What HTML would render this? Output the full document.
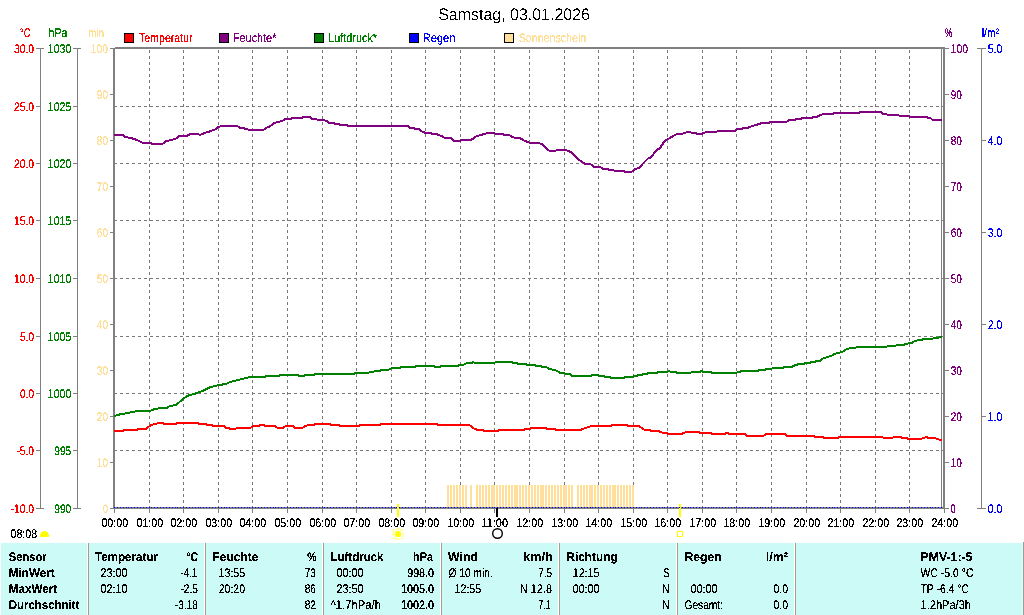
<!DOCTYPE html><html><head><meta charset="utf-8"><title>Wetter</title>
<style>html,body{margin:0;padding:0;background:#fff;overflow:hidden}svg{display:block;will-change:transform}text{font-family:'Liberation Sans', sans-serif;white-space:pre;text-rendering:geometricPrecision}</style></head><body>
<svg width="1024" height="615" viewBox="0 0 1024 615">
<rect x="0" y="0" width="1024" height="615" fill="#fff"/>
<g shape-rendering="crispEdges">
<line x1="149.5" y1="509" x2="149.5" y2="49" stroke="#787878" stroke-width="1" stroke-dasharray="3 3"/>
<line x1="183.5" y1="509" x2="183.5" y2="49" stroke="#787878" stroke-width="1" stroke-dasharray="3 3"/>
<line x1="218.5" y1="509" x2="218.5" y2="49" stroke="#787878" stroke-width="1" stroke-dasharray="3 3"/>
<line x1="252.5" y1="509" x2="252.5" y2="49" stroke="#787878" stroke-width="1" stroke-dasharray="3 3"/>
<line x1="287.5" y1="509" x2="287.5" y2="49" stroke="#787878" stroke-width="1" stroke-dasharray="3 3"/>
<line x1="322.5" y1="509" x2="322.5" y2="49" stroke="#787878" stroke-width="1" stroke-dasharray="3 3"/>
<line x1="356.5" y1="509" x2="356.5" y2="49" stroke="#787878" stroke-width="1" stroke-dasharray="3 3"/>
<line x1="391.5" y1="509" x2="391.5" y2="49" stroke="#787878" stroke-width="1" stroke-dasharray="3 3"/>
<line x1="425.5" y1="509" x2="425.5" y2="49" stroke="#787878" stroke-width="1" stroke-dasharray="3 3"/>
<line x1="460.5" y1="509" x2="460.5" y2="49" stroke="#787878" stroke-width="1" stroke-dasharray="3 3"/>
<line x1="494.5" y1="509" x2="494.5" y2="49" stroke="#787878" stroke-width="1" stroke-dasharray="3 3"/>
<line x1="529.5" y1="509" x2="529.5" y2="49" stroke="#787878" stroke-width="1" stroke-dasharray="3 3"/>
<line x1="564.5" y1="509" x2="564.5" y2="49" stroke="#787878" stroke-width="1" stroke-dasharray="3 3"/>
<line x1="598.5" y1="509" x2="598.5" y2="49" stroke="#787878" stroke-width="1" stroke-dasharray="3 3"/>
<line x1="633.5" y1="509" x2="633.5" y2="49" stroke="#787878" stroke-width="1" stroke-dasharray="3 3"/>
<line x1="667.5" y1="509" x2="667.5" y2="49" stroke="#787878" stroke-width="1" stroke-dasharray="3 3"/>
<line x1="702.5" y1="509" x2="702.5" y2="49" stroke="#787878" stroke-width="1" stroke-dasharray="3 3"/>
<line x1="736.5" y1="509" x2="736.5" y2="49" stroke="#787878" stroke-width="1" stroke-dasharray="3 3"/>
<line x1="771.5" y1="509" x2="771.5" y2="49" stroke="#787878" stroke-width="1" stroke-dasharray="3 3"/>
<line x1="806.5" y1="509" x2="806.5" y2="49" stroke="#787878" stroke-width="1" stroke-dasharray="3 3"/>
<line x1="840.5" y1="509" x2="840.5" y2="49" stroke="#787878" stroke-width="1" stroke-dasharray="3 3"/>
<line x1="875.5" y1="509" x2="875.5" y2="49" stroke="#787878" stroke-width="1" stroke-dasharray="3 3"/>
<line x1="909.5" y1="509" x2="909.5" y2="49" stroke="#787878" stroke-width="1" stroke-dasharray="3 3"/>
<line x1="114" y1="106.5" x2="943" y2="106.5" stroke="#787878" stroke-width="1" stroke-dasharray="3 3"/>
<line x1="114" y1="163.5" x2="943" y2="163.5" stroke="#787878" stroke-width="1" stroke-dasharray="3 3"/>
<line x1="114" y1="220.5" x2="943" y2="220.5" stroke="#787878" stroke-width="1" stroke-dasharray="3 3"/>
<line x1="114" y1="278.5" x2="943" y2="278.5" stroke="#787878" stroke-width="1" stroke-dasharray="3 3"/>
<line x1="114" y1="336.5" x2="943" y2="336.5" stroke="#787878" stroke-width="1" stroke-dasharray="3 3"/>
<line x1="114" y1="393.5" x2="943" y2="393.5" stroke="#787878" stroke-width="1" stroke-dasharray="3 3"/>
<line x1="114" y1="450.5" x2="943" y2="450.5" stroke="#787878" stroke-width="1" stroke-dasharray="3 3"/>
<rect x="447" y="485" width="2" height="22" fill="#FFDF99"/>
<rect x="450" y="485" width="2" height="22" fill="#FFDF99"/>
<rect x="453" y="485" width="2" height="22" fill="#FFDF99"/>
<rect x="456" y="485" width="2" height="22" fill="#FFDF99"/>
<rect x="459" y="485" width="2" height="22" fill="#FFDF99"/>
<rect x="462" y="485" width="2" height="22" fill="#FFDF99"/>
<rect x="465" y="485" width="2" height="22" fill="#FFDF99"/>
<rect x="470" y="485" width="2" height="22" fill="#FFDF99"/>
<rect x="476" y="485" width="2" height="22" fill="#FFDF99"/>
<rect x="479" y="485" width="2" height="22" fill="#FFDF99"/>
<rect x="482" y="485" width="2" height="22" fill="#FFDF99"/>
<rect x="485" y="485" width="2" height="22" fill="#FFDF99"/>
<rect x="488" y="485" width="2" height="22" fill="#FFDF99"/>
<rect x="491" y="485" width="2" height="22" fill="#FFDF99"/>
<rect x="493" y="485" width="2" height="22" fill="#FFDF99"/>
<rect x="496" y="485" width="2" height="22" fill="#FFDF99"/>
<rect x="499" y="485" width="2" height="22" fill="#FFDF99"/>
<rect x="502" y="485" width="2" height="22" fill="#FFDF99"/>
<rect x="505" y="485" width="2" height="22" fill="#FFDF99"/>
<rect x="508" y="485" width="2" height="22" fill="#FFDF99"/>
<rect x="511" y="485" width="2" height="22" fill="#FFDF99"/>
<rect x="514" y="485" width="2" height="22" fill="#FFDF99"/>
<rect x="516" y="485" width="2" height="22" fill="#FFDF99"/>
<rect x="519" y="485" width="2" height="22" fill="#FFDF99"/>
<rect x="522" y="485" width="2" height="22" fill="#FFDF99"/>
<rect x="525" y="485" width="2" height="22" fill="#FFDF99"/>
<rect x="528" y="485" width="2" height="22" fill="#FFDF99"/>
<rect x="531" y="485" width="2" height="22" fill="#FFDF99"/>
<rect x="534" y="485" width="2" height="22" fill="#FFDF99"/>
<rect x="537" y="485" width="2" height="22" fill="#FFDF99"/>
<rect x="540" y="485" width="2" height="22" fill="#FFDF99"/>
<rect x="542" y="485" width="2" height="22" fill="#FFDF99"/>
<rect x="545" y="485" width="2" height="22" fill="#FFDF99"/>
<rect x="548" y="485" width="2" height="22" fill="#FFDF99"/>
<rect x="551" y="485" width="2" height="22" fill="#FFDF99"/>
<rect x="554" y="485" width="2" height="22" fill="#FFDF99"/>
<rect x="557" y="485" width="2" height="22" fill="#FFDF99"/>
<rect x="560" y="485" width="2" height="22" fill="#FFDF99"/>
<rect x="563" y="485" width="2" height="22" fill="#FFDF99"/>
<rect x="565" y="485" width="2" height="22" fill="#FFDF99"/>
<rect x="568" y="485" width="2" height="22" fill="#FFDF99"/>
<rect x="571" y="485" width="2" height="22" fill="#FFDF99"/>
<rect x="577" y="485" width="2" height="22" fill="#FFDF99"/>
<rect x="580" y="485" width="2" height="22" fill="#FFDF99"/>
<rect x="583" y="485" width="2" height="22" fill="#FFDF99"/>
<rect x="586" y="485" width="2" height="22" fill="#FFDF99"/>
<rect x="589" y="485" width="2" height="22" fill="#FFDF99"/>
<rect x="591" y="485" width="2" height="22" fill="#FFDF99"/>
<rect x="594" y="485" width="2" height="22" fill="#FFDF99"/>
<rect x="597" y="485" width="2" height="22" fill="#FFDF99"/>
<rect x="600" y="485" width="2" height="22" fill="#FFDF99"/>
<rect x="603" y="485" width="2" height="22" fill="#FFDF99"/>
<rect x="606" y="485" width="2" height="22" fill="#FFDF99"/>
<rect x="609" y="485" width="2" height="22" fill="#FFDF99"/>
<rect x="612" y="485" width="2" height="22" fill="#FFDF99"/>
<rect x="614" y="485" width="2" height="22" fill="#FFDF99"/>
<rect x="617" y="485" width="2" height="22" fill="#FFDF99"/>
<rect x="620" y="485" width="2" height="22" fill="#FFDF99"/>
<rect x="623" y="485" width="2" height="22" fill="#FFDF99"/>
<rect x="626" y="485" width="2" height="22" fill="#FFDF99"/>
<rect x="629" y="485" width="2" height="22" fill="#FFDF99"/>
<rect x="632" y="485" width="2" height="22" fill="#FFDF99"/>
<rect x="115" y="47" width="830" height="2" fill="#808080"/>
<rect x="113" y="48" width="2" height="461" fill="#808080"/>
<rect x="943" y="47" width="2" height="462" fill="#808080"/>
<rect x="941" y="49" width="1" height="459" fill="#808080"/>
<rect x="113" y="507" width="832" height="2" fill="#808080"/>
<rect x="114" y="509" width="1" height="4" fill="#808080"/>
<rect x="149" y="509" width="1" height="4" fill="#808080"/>
<rect x="183" y="509" width="1" height="4" fill="#808080"/>
<rect x="218" y="509" width="1" height="4" fill="#808080"/>
<rect x="252" y="509" width="1" height="4" fill="#808080"/>
<rect x="287" y="509" width="1" height="4" fill="#808080"/>
<rect x="322" y="509" width="1" height="4" fill="#808080"/>
<rect x="356" y="509" width="1" height="4" fill="#808080"/>
<rect x="391" y="509" width="1" height="4" fill="#808080"/>
<rect x="425" y="509" width="1" height="4" fill="#808080"/>
<rect x="460" y="509" width="1" height="4" fill="#808080"/>
<rect x="494" y="509" width="1" height="4" fill="#808080"/>
<rect x="529" y="509" width="1" height="4" fill="#808080"/>
<rect x="564" y="509" width="1" height="4" fill="#808080"/>
<rect x="598" y="509" width="1" height="4" fill="#808080"/>
<rect x="633" y="509" width="1" height="4" fill="#808080"/>
<rect x="667" y="509" width="1" height="4" fill="#808080"/>
<rect x="702" y="509" width="1" height="4" fill="#808080"/>
<rect x="736" y="509" width="1" height="4" fill="#808080"/>
<rect x="771" y="509" width="1" height="4" fill="#808080"/>
<rect x="806" y="509" width="1" height="4" fill="#808080"/>
<rect x="840" y="509" width="1" height="4" fill="#808080"/>
<rect x="875" y="509" width="1" height="4" fill="#808080"/>
<rect x="909" y="509" width="1" height="4" fill="#808080"/>
<rect x="944" y="509" width="1" height="4" fill="#808080"/>
<rect x="40" y="48" width="1" height="461" fill="#808080"/>
<rect x="77" y="48" width="1" height="461" fill="#808080"/>
<rect x="36" y="48" width="8" height="1" fill="#808080"/>
<rect x="73" y="48" width="8" height="1" fill="#808080"/>
<rect x="36" y="106" width="4" height="1" fill="#808080"/>
<rect x="73" y="106" width="4" height="1" fill="#808080"/>
<rect x="36" y="163" width="4" height="1" fill="#808080"/>
<rect x="73" y="163" width="4" height="1" fill="#808080"/>
<rect x="36" y="220" width="4" height="1" fill="#808080"/>
<rect x="73" y="220" width="4" height="1" fill="#808080"/>
<rect x="36" y="278" width="4" height="1" fill="#808080"/>
<rect x="73" y="278" width="4" height="1" fill="#808080"/>
<rect x="36" y="336" width="4" height="1" fill="#808080"/>
<rect x="73" y="336" width="4" height="1" fill="#808080"/>
<rect x="36" y="393" width="4" height="1" fill="#808080"/>
<rect x="73" y="393" width="4" height="1" fill="#808080"/>
<rect x="36" y="450" width="4" height="1" fill="#808080"/>
<rect x="73" y="450" width="4" height="1" fill="#808080"/>
<rect x="36" y="508" width="8" height="1" fill="#808080"/>
<rect x="73" y="508" width="8" height="1" fill="#808080"/>
<rect x="110" y="48" width="3" height="1" fill="#808080"/>
<rect x="110" y="94" width="3" height="1" fill="#808080"/>
<rect x="110" y="140" width="3" height="1" fill="#808080"/>
<rect x="110" y="186" width="3" height="1" fill="#808080"/>
<rect x="110" y="232" width="3" height="1" fill="#808080"/>
<rect x="110" y="278" width="3" height="1" fill="#808080"/>
<rect x="110" y="324" width="3" height="1" fill="#808080"/>
<rect x="110" y="370" width="3" height="1" fill="#808080"/>
<rect x="110" y="416" width="3" height="1" fill="#808080"/>
<rect x="110" y="462" width="3" height="1" fill="#808080"/>
<rect x="110" y="508" width="3" height="1" fill="#808080"/>
<rect x="945" y="48" width="4" height="1" fill="#808080"/>
<rect x="945" y="94" width="4" height="1" fill="#808080"/>
<rect x="945" y="140" width="4" height="1" fill="#808080"/>
<rect x="945" y="186" width="4" height="1" fill="#808080"/>
<rect x="945" y="232" width="4" height="1" fill="#808080"/>
<rect x="945" y="278" width="4" height="1" fill="#808080"/>
<rect x="945" y="324" width="4" height="1" fill="#808080"/>
<rect x="945" y="370" width="4" height="1" fill="#808080"/>
<rect x="945" y="416" width="4" height="1" fill="#808080"/>
<rect x="945" y="462" width="4" height="1" fill="#808080"/>
<rect x="945" y="508" width="4" height="1" fill="#808080"/>
<rect x="981" y="48" width="1" height="461" fill="#808080"/>
<rect x="977" y="48" width="9" height="1" fill="#808080"/>
<rect x="982" y="140" width="4" height="1" fill="#808080"/>
<rect x="982" y="232" width="4" height="1" fill="#808080"/>
<rect x="982" y="324" width="4" height="1" fill="#808080"/>
<rect x="982" y="416" width="4" height="1" fill="#808080"/>
<rect x="977" y="508" width="9" height="1" fill="#808080"/>
<polyline points="114,416 117.5,415 121.5,414 128,413 132.5,412 138,411 149.5,411 155,409 161,408 166.5,408 170,406 176,405 179.5,402 184,398 189.5,395 194,394 199.5,392 205,390 208,388 211,387 215,386 219,385 226,384 230,382 234.5,381 238,380 242,379 245.5,378 250.5,377 265,377 266,376 278.5,376 280,375 298,375 299,376 304,376 305.5,375 313.5,375 315,374 353.5,374 355.5,373 368.5,373 369.5,372 373.5,372 374.5,371 379.5,371 381,370 388.5,370 389.5,369 392,368 399.5,368 401,367 414.5,367 416,366 434,366 435,367 440,367 441.5,366 458,366 459,365 463.5,365 464.5,364 467,363 471.5,363 473.5,362 474.5,363 494.5,363 495.5,362 512,362 513,363 517,363 518,364 526,364 527.5,365 535,365 536,366 541,366 542.5,367 546,367 549.5,369 554,370 557.5,371 560,373 564.5,373 565.5,374 569.5,374 572.5,376 590.5,376 592,375 598,375 599.5,376 604,376 605,377 610,377 611,378 624,378 625.5,377 633,377 634,376 636.5,376 638,375 641.5,375 643,374 647,374 648.5,373 656.5,373 658,372 667,372 669,371 671,372 676,372 677,373 690.5,373 691.5,372 700,372 701.5,371 703,372 711,372 712,373 736,373 738,372 740,372 741,371 757.5,371 759,370 765,370 766.5,369 771.5,369 772.5,368 783,368 784.5,367 791.5,367 793,366 796,365 799,364 804,364 805,363 809.5,363 811,362 814.5,362 816,361 820,361 822,359 824.5,358 827.5,357 831,356 834.5,354 838,353 842.5,352 845,350 847.5,349 851,348 855.5,348 856.5,347 886.5,347 887.5,346 895.5,346 896.5,345 904,345 905,344 907.5,344 908.5,343 912,343 913,342 915.5,341 918.5,340 922,340 923,339 932.5,339 933.5,338 938.5,338 939.5,337 942,337" fill="none" stroke="#008000" stroke-width="2" stroke-linejoin="round"/>
<polyline points="114,431 123,431 124.5,430 137,430 138,429 146,429 148,427 151.5,425 155,424 159,423 162.5,423 164,424 176,424 177,423 197.5,423 199,424 206,424 207,425 212,425 213,426 224,426 226,428 229,428 230,429 235,429 237,428 240,428 250.5,428 253,426 258.5,426 260,425 264,425 265.5,426 275,426 277.5,428 282.5,428 284,427 286,426 293,426 295,428 302.5,428 305,426 308.5,425 313.5,425 315,424 330,424 331,425 338.5,425 340,426 359,426 360.5,425 379.5,425 381,424 437,424 438.5,425 468.5,425 471,426 473,428 475,429 478,430 483,430 484,431 497.5,431 499,430 524,430 525,429 530,429 531,428 545.5,428 547,429 555,429 556,430 581,430 582.5,429 585.5,428 589,427 591,426 610.5,426 612,425 626.5,425 628,426 639,426 641.5,428 645,430 650,430 651,431 659,431 660.5,432 663,433 667,433 668.5,434 682,434 683.5,433 686,432 687,432 699,432 700.5,433 711,433 712,434 725.5,434 726,433 728,433 728.5,434 745,434 747,436 763,436 766.5,434 785,434 787,436 814,436 815,437 823,437 824.5,438 837.5,438 839,437 882.5,437 883.5,438 892.5,438 893.5,437 901.5,437 902,438 907,438 908,439 921.5,439 922.5,438 924.5,438 925.5,437 927,437 928,438 935.5,438 936.5,439 938.5,439 939.5,440 942,440" fill="none" stroke="#FF0000" stroke-width="2" stroke-linejoin="round"/>
<polyline points="114,135 123.5,135 124.5,137 131,138 137,140 143,143 151,143 152,144 162.5,144 166,141 172,140 177,138 179,136 187,136 190,134 198,134 200,135 204.5,133 211,131 216,129 218,127 222,126 237.5,126 240,128 244,128 245.5,129 250,130 263.5,130 266,128 270.5,126 274,123 278,122 282,121 285.5,119 290.5,119 292.5,118 302,118 303,117 310,117 312,119 316,119 318,120 323,120 327,121 329,123 333.5,123 335,124 339,124 340.5,125 347,125 348.5,126 408,126 409.5,128 414,128 415,129 419,129 421,131 423,132 426,133 431,133 432,134 437,134 438.5,135 441.5,136 445,138 451,138 454,141 460,141 461.5,140 471,140 474,138 476.5,136 481,135 484,134 488,133 494.5,133 495.5,134 502.5,134 504.5,135 509,135 512.5,137 516,138 520,138 523,140 527.5,142 530,143 538,143 542,144 545,147 549.5,151 555,151 557,150 565.5,150 569,151 572,153 576,157 580.5,161 585.5,164 590.5,164 594,167 600.5,167 603,169 607.5,169 609.5,170 613,170 615,171 624,171 625.5,172 631.5,172 635,169 639,168 643.5,163 648.5,158 650.5,158 653.5,154 657,150 660,148 664,142 666,140 670,138 673,136 677,134 682,134 687,132 690.5,132 691.5,133 696,133 697,134 702,134 703.5,133 706,132 708,132 716,132 718,131 735,131 736.5,129 742,129 743,128 747.5,128 749.5,127 752.5,126 756,125 759,124 762,123 769,123 770,122 786,122 789.5,120 794.5,120 796,119 801,119 802,118 811.5,118 813,117 817,117 820,115 824.5,114 832.5,114 834.5,113 859,113 860,112 881,112 883,114 886.5,114 887.5,115 898.5,115 899.5,116 909,116 910,117 927,117 928.5,118 930.5,118 932.5,120 942,120" fill="none" stroke="#800080" stroke-width="2" stroke-linejoin="round"/>
<rect x="397" y="504" width="2" height="13" fill="#FFFF00"/>
<rect x="679" y="504" width="2" height="13" fill="#FFFF00"/>
<rect x="496" y="508" width="2" height="9" fill="#000"/>
<rect x="114" y="507" width="1" height="1" fill="#0000FF"/>
<rect x="117" y="507" width="1" height="1" fill="#0000FF"/>
<rect x="120" y="507" width="1" height="1" fill="#0000FF"/>
<rect x="123" y="507" width="1" height="1" fill="#0000FF"/>
<rect x="126" y="507" width="1" height="1" fill="#0000FF"/>
<rect x="128" y="507" width="1" height="1" fill="#0000FF"/>
<rect x="131" y="507" width="1" height="1" fill="#0000FF"/>
<rect x="134" y="507" width="1" height="1" fill="#0000FF"/>
<rect x="137" y="507" width="1" height="1" fill="#0000FF"/>
<rect x="140" y="507" width="1" height="1" fill="#0000FF"/>
<rect x="143" y="507" width="1" height="1" fill="#0000FF"/>
<rect x="146" y="507" width="1" height="1" fill="#0000FF"/>
<rect x="149" y="507" width="1" height="1" fill="#0000FF"/>
<rect x="151" y="507" width="1" height="1" fill="#0000FF"/>
<rect x="154" y="507" width="1" height="1" fill="#0000FF"/>
<rect x="157" y="507" width="1" height="1" fill="#0000FF"/>
<rect x="160" y="507" width="1" height="1" fill="#0000FF"/>
<rect x="163" y="507" width="1" height="1" fill="#0000FF"/>
<rect x="166" y="507" width="1" height="1" fill="#0000FF"/>
<rect x="169" y="507" width="1" height="1" fill="#0000FF"/>
<rect x="172" y="507" width="1" height="1" fill="#0000FF"/>
<rect x="175" y="507" width="1" height="1" fill="#0000FF"/>
<rect x="177" y="507" width="1" height="1" fill="#0000FF"/>
<rect x="180" y="507" width="1" height="1" fill="#0000FF"/>
<rect x="183" y="507" width="1" height="1" fill="#0000FF"/>
<rect x="186" y="507" width="1" height="1" fill="#0000FF"/>
<rect x="189" y="507" width="1" height="1" fill="#0000FF"/>
<rect x="192" y="507" width="1" height="1" fill="#0000FF"/>
<rect x="195" y="507" width="1" height="1" fill="#0000FF"/>
<rect x="198" y="507" width="1" height="1" fill="#0000FF"/>
<rect x="200" y="507" width="1" height="1" fill="#0000FF"/>
<rect x="203" y="507" width="1" height="1" fill="#0000FF"/>
<rect x="206" y="507" width="1" height="1" fill="#0000FF"/>
<rect x="209" y="507" width="1" height="1" fill="#0000FF"/>
<rect x="212" y="507" width="1" height="1" fill="#0000FF"/>
<rect x="215" y="507" width="1" height="1" fill="#0000FF"/>
<rect x="218" y="507" width="1" height="1" fill="#0000FF"/>
<rect x="221" y="507" width="1" height="1" fill="#0000FF"/>
<rect x="224" y="507" width="1" height="1" fill="#0000FF"/>
<rect x="226" y="507" width="1" height="1" fill="#0000FF"/>
<rect x="229" y="507" width="1" height="1" fill="#0000FF"/>
<rect x="232" y="507" width="1" height="1" fill="#0000FF"/>
<rect x="235" y="507" width="1" height="1" fill="#0000FF"/>
<rect x="238" y="507" width="1" height="1" fill="#0000FF"/>
<rect x="241" y="507" width="1" height="1" fill="#0000FF"/>
<rect x="244" y="507" width="1" height="1" fill="#0000FF"/>
<rect x="247" y="507" width="1" height="1" fill="#0000FF"/>
<rect x="249" y="507" width="1" height="1" fill="#0000FF"/>
<rect x="252" y="507" width="1" height="1" fill="#0000FF"/>
<rect x="255" y="507" width="1" height="1" fill="#0000FF"/>
<rect x="258" y="507" width="1" height="1" fill="#0000FF"/>
<rect x="261" y="507" width="1" height="1" fill="#0000FF"/>
<rect x="264" y="507" width="1" height="1" fill="#0000FF"/>
<rect x="267" y="507" width="1" height="1" fill="#0000FF"/>
<rect x="270" y="507" width="1" height="1" fill="#0000FF"/>
<rect x="273" y="507" width="1" height="1" fill="#0000FF"/>
<rect x="275" y="507" width="1" height="1" fill="#0000FF"/>
<rect x="278" y="507" width="1" height="1" fill="#0000FF"/>
<rect x="281" y="507" width="1" height="1" fill="#0000FF"/>
<rect x="284" y="507" width="1" height="1" fill="#0000FF"/>
<rect x="287" y="507" width="1" height="1" fill="#0000FF"/>
<rect x="290" y="507" width="1" height="1" fill="#0000FF"/>
<rect x="293" y="507" width="1" height="1" fill="#0000FF"/>
<rect x="296" y="507" width="1" height="1" fill="#0000FF"/>
<rect x="298" y="507" width="1" height="1" fill="#0000FF"/>
<rect x="301" y="507" width="1" height="1" fill="#0000FF"/>
<rect x="304" y="507" width="1" height="1" fill="#0000FF"/>
<rect x="307" y="507" width="1" height="1" fill="#0000FF"/>
<rect x="310" y="507" width="1" height="1" fill="#0000FF"/>
<rect x="313" y="507" width="1" height="1" fill="#0000FF"/>
<rect x="316" y="507" width="1" height="1" fill="#0000FF"/>
<rect x="319" y="507" width="1" height="1" fill="#0000FF"/>
<rect x="322" y="507" width="1" height="1" fill="#0000FF"/>
<rect x="324" y="507" width="1" height="1" fill="#0000FF"/>
<rect x="327" y="507" width="1" height="1" fill="#0000FF"/>
<rect x="330" y="507" width="1" height="1" fill="#0000FF"/>
<rect x="333" y="507" width="1" height="1" fill="#0000FF"/>
<rect x="336" y="507" width="1" height="1" fill="#0000FF"/>
<rect x="339" y="507" width="1" height="1" fill="#0000FF"/>
<rect x="342" y="507" width="1" height="1" fill="#0000FF"/>
<rect x="345" y="507" width="1" height="1" fill="#0000FF"/>
<rect x="347" y="507" width="1" height="1" fill="#0000FF"/>
<rect x="350" y="507" width="1" height="1" fill="#0000FF"/>
<rect x="353" y="507" width="1" height="1" fill="#0000FF"/>
<rect x="356" y="507" width="1" height="1" fill="#0000FF"/>
<rect x="359" y="507" width="1" height="1" fill="#0000FF"/>
<rect x="362" y="507" width="1" height="1" fill="#0000FF"/>
<rect x="365" y="507" width="1" height="1" fill="#0000FF"/>
<rect x="368" y="507" width="1" height="1" fill="#0000FF"/>
<rect x="370" y="507" width="1" height="1" fill="#0000FF"/>
<rect x="373" y="507" width="1" height="1" fill="#0000FF"/>
<rect x="376" y="507" width="1" height="1" fill="#0000FF"/>
<rect x="379" y="507" width="1" height="1" fill="#0000FF"/>
<rect x="382" y="507" width="1" height="1" fill="#0000FF"/>
<rect x="385" y="507" width="1" height="1" fill="#0000FF"/>
<rect x="388" y="507" width="1" height="1" fill="#0000FF"/>
<rect x="391" y="507" width="1" height="1" fill="#0000FF"/>
<rect x="394" y="507" width="1" height="1" fill="#0000FF"/>
<rect x="396" y="507" width="1" height="1" fill="#0000FF"/>
<rect x="399" y="507" width="1" height="1" fill="#0000FF"/>
<rect x="402" y="507" width="1" height="1" fill="#0000FF"/>
<rect x="405" y="507" width="1" height="1" fill="#0000FF"/>
<rect x="408" y="507" width="1" height="1" fill="#0000FF"/>
<rect x="411" y="507" width="1" height="1" fill="#0000FF"/>
<rect x="414" y="507" width="1" height="1" fill="#0000FF"/>
<rect x="417" y="507" width="1" height="1" fill="#0000FF"/>
<rect x="419" y="507" width="1" height="1" fill="#0000FF"/>
<rect x="422" y="507" width="1" height="1" fill="#0000FF"/>
<rect x="425" y="507" width="1" height="1" fill="#0000FF"/>
<rect x="428" y="507" width="1" height="1" fill="#0000FF"/>
<rect x="431" y="507" width="1" height="1" fill="#0000FF"/>
<rect x="434" y="507" width="1" height="1" fill="#0000FF"/>
<rect x="437" y="507" width="1" height="1" fill="#0000FF"/>
<rect x="440" y="507" width="1" height="1" fill="#0000FF"/>
<rect x="443" y="507" width="1" height="1" fill="#0000FF"/>
<rect x="445" y="507" width="1" height="1" fill="#0000FF"/>
<rect x="448" y="507" width="1" height="1" fill="#0000FF"/>
<rect x="451" y="507" width="1" height="1" fill="#0000FF"/>
<rect x="454" y="507" width="1" height="1" fill="#0000FF"/>
<rect x="457" y="507" width="1" height="1" fill="#0000FF"/>
<rect x="460" y="507" width="1" height="1" fill="#0000FF"/>
<rect x="463" y="507" width="1" height="1" fill="#0000FF"/>
<rect x="466" y="507" width="1" height="1" fill="#0000FF"/>
<rect x="468" y="507" width="1" height="1" fill="#0000FF"/>
<rect x="471" y="507" width="1" height="1" fill="#0000FF"/>
<rect x="474" y="507" width="1" height="1" fill="#0000FF"/>
<rect x="477" y="507" width="1" height="1" fill="#0000FF"/>
<rect x="480" y="507" width="1" height="1" fill="#0000FF"/>
<rect x="483" y="507" width="1" height="1" fill="#0000FF"/>
<rect x="486" y="507" width="1" height="1" fill="#0000FF"/>
<rect x="489" y="507" width="1" height="1" fill="#0000FF"/>
<rect x="492" y="507" width="1" height="1" fill="#0000FF"/>
<rect x="494" y="507" width="1" height="1" fill="#0000FF"/>
<rect x="497" y="507" width="1" height="1" fill="#0000FF"/>
<rect x="500" y="507" width="1" height="1" fill="#0000FF"/>
<rect x="503" y="507" width="1" height="1" fill="#0000FF"/>
<rect x="506" y="507" width="1" height="1" fill="#0000FF"/>
<rect x="509" y="507" width="1" height="1" fill="#0000FF"/>
<rect x="512" y="507" width="1" height="1" fill="#0000FF"/>
<rect x="515" y="507" width="1" height="1" fill="#0000FF"/>
<rect x="517" y="507" width="1" height="1" fill="#0000FF"/>
<rect x="520" y="507" width="1" height="1" fill="#0000FF"/>
<rect x="523" y="507" width="1" height="1" fill="#0000FF"/>
<rect x="526" y="507" width="1" height="1" fill="#0000FF"/>
<rect x="529" y="507" width="1" height="1" fill="#0000FF"/>
<rect x="532" y="507" width="1" height="1" fill="#0000FF"/>
<rect x="535" y="507" width="1" height="1" fill="#0000FF"/>
<rect x="538" y="507" width="1" height="1" fill="#0000FF"/>
<rect x="541" y="507" width="1" height="1" fill="#0000FF"/>
<rect x="543" y="507" width="1" height="1" fill="#0000FF"/>
<rect x="546" y="507" width="1" height="1" fill="#0000FF"/>
<rect x="549" y="507" width="1" height="1" fill="#0000FF"/>
<rect x="552" y="507" width="1" height="1" fill="#0000FF"/>
<rect x="555" y="507" width="1" height="1" fill="#0000FF"/>
<rect x="558" y="507" width="1" height="1" fill="#0000FF"/>
<rect x="561" y="507" width="1" height="1" fill="#0000FF"/>
<rect x="564" y="507" width="1" height="1" fill="#0000FF"/>
<rect x="566" y="507" width="1" height="1" fill="#0000FF"/>
<rect x="569" y="507" width="1" height="1" fill="#0000FF"/>
<rect x="572" y="507" width="1" height="1" fill="#0000FF"/>
<rect x="575" y="507" width="1" height="1" fill="#0000FF"/>
<rect x="578" y="507" width="1" height="1" fill="#0000FF"/>
<rect x="581" y="507" width="1" height="1" fill="#0000FF"/>
<rect x="584" y="507" width="1" height="1" fill="#0000FF"/>
<rect x="587" y="507" width="1" height="1" fill="#0000FF"/>
<rect x="590" y="507" width="1" height="1" fill="#0000FF"/>
<rect x="592" y="507" width="1" height="1" fill="#0000FF"/>
<rect x="595" y="507" width="1" height="1" fill="#0000FF"/>
<rect x="598" y="507" width="1" height="1" fill="#0000FF"/>
<rect x="601" y="507" width="1" height="1" fill="#0000FF"/>
<rect x="604" y="507" width="1" height="1" fill="#0000FF"/>
<rect x="607" y="507" width="1" height="1" fill="#0000FF"/>
<rect x="610" y="507" width="1" height="1" fill="#0000FF"/>
<rect x="613" y="507" width="1" height="1" fill="#0000FF"/>
<rect x="615" y="507" width="1" height="1" fill="#0000FF"/>
<rect x="618" y="507" width="1" height="1" fill="#0000FF"/>
<rect x="621" y="507" width="1" height="1" fill="#0000FF"/>
<rect x="624" y="507" width="1" height="1" fill="#0000FF"/>
<rect x="627" y="507" width="1" height="1" fill="#0000FF"/>
<rect x="630" y="507" width="1" height="1" fill="#0000FF"/>
<rect x="633" y="507" width="1" height="1" fill="#0000FF"/>
<rect x="636" y="507" width="1" height="1" fill="#0000FF"/>
<rect x="639" y="507" width="1" height="1" fill="#0000FF"/>
<rect x="641" y="507" width="1" height="1" fill="#0000FF"/>
<rect x="644" y="507" width="1" height="1" fill="#0000FF"/>
<rect x="647" y="507" width="1" height="1" fill="#0000FF"/>
<rect x="650" y="507" width="1" height="1" fill="#0000FF"/>
<rect x="653" y="507" width="1" height="1" fill="#0000FF"/>
<rect x="656" y="507" width="1" height="1" fill="#0000FF"/>
<rect x="659" y="507" width="1" height="1" fill="#0000FF"/>
<rect x="662" y="507" width="1" height="1" fill="#0000FF"/>
<rect x="664" y="507" width="1" height="1" fill="#0000FF"/>
<rect x="667" y="507" width="1" height="1" fill="#0000FF"/>
<rect x="670" y="507" width="1" height="1" fill="#0000FF"/>
<rect x="673" y="507" width="1" height="1" fill="#0000FF"/>
<rect x="676" y="507" width="1" height="1" fill="#0000FF"/>
<rect x="679" y="507" width="1" height="1" fill="#0000FF"/>
<rect x="682" y="507" width="1" height="1" fill="#0000FF"/>
<rect x="685" y="507" width="1" height="1" fill="#0000FF"/>
<rect x="688" y="507" width="1" height="1" fill="#0000FF"/>
<rect x="690" y="507" width="1" height="1" fill="#0000FF"/>
<rect x="693" y="507" width="1" height="1" fill="#0000FF"/>
<rect x="696" y="507" width="1" height="1" fill="#0000FF"/>
<rect x="699" y="507" width="1" height="1" fill="#0000FF"/>
<rect x="702" y="507" width="1" height="1" fill="#0000FF"/>
<rect x="705" y="507" width="1" height="1" fill="#0000FF"/>
<rect x="708" y="507" width="1" height="1" fill="#0000FF"/>
<rect x="711" y="507" width="1" height="1" fill="#0000FF"/>
<rect x="713" y="507" width="1" height="1" fill="#0000FF"/>
<rect x="716" y="507" width="1" height="1" fill="#0000FF"/>
<rect x="719" y="507" width="1" height="1" fill="#0000FF"/>
<rect x="722" y="507" width="1" height="1" fill="#0000FF"/>
<rect x="725" y="507" width="1" height="1" fill="#0000FF"/>
<rect x="728" y="507" width="1" height="1" fill="#0000FF"/>
<rect x="731" y="507" width="1" height="1" fill="#0000FF"/>
<rect x="734" y="507" width="1" height="1" fill="#0000FF"/>
<rect x="736" y="507" width="1" height="1" fill="#0000FF"/>
<rect x="739" y="507" width="1" height="1" fill="#0000FF"/>
<rect x="742" y="507" width="1" height="1" fill="#0000FF"/>
<rect x="745" y="507" width="1" height="1" fill="#0000FF"/>
<rect x="748" y="507" width="1" height="1" fill="#0000FF"/>
<rect x="751" y="507" width="1" height="1" fill="#0000FF"/>
<rect x="754" y="507" width="1" height="1" fill="#0000FF"/>
<rect x="757" y="507" width="1" height="1" fill="#0000FF"/>
<rect x="760" y="507" width="1" height="1" fill="#0000FF"/>
<rect x="762" y="507" width="1" height="1" fill="#0000FF"/>
<rect x="765" y="507" width="1" height="1" fill="#0000FF"/>
<rect x="768" y="507" width="1" height="1" fill="#0000FF"/>
<rect x="771" y="507" width="1" height="1" fill="#0000FF"/>
<rect x="774" y="507" width="1" height="1" fill="#0000FF"/>
<rect x="777" y="507" width="1" height="1" fill="#0000FF"/>
<rect x="780" y="507" width="1" height="1" fill="#0000FF"/>
<rect x="783" y="507" width="1" height="1" fill="#0000FF"/>
<rect x="785" y="507" width="1" height="1" fill="#0000FF"/>
<rect x="788" y="507" width="1" height="1" fill="#0000FF"/>
<rect x="791" y="507" width="1" height="1" fill="#0000FF"/>
<rect x="794" y="507" width="1" height="1" fill="#0000FF"/>
<rect x="797" y="507" width="1" height="1" fill="#0000FF"/>
<rect x="800" y="507" width="1" height="1" fill="#0000FF"/>
<rect x="803" y="507" width="1" height="1" fill="#0000FF"/>
<rect x="806" y="507" width="1" height="1" fill="#0000FF"/>
<rect x="809" y="507" width="1" height="1" fill="#0000FF"/>
<rect x="811" y="507" width="1" height="1" fill="#0000FF"/>
<rect x="814" y="507" width="1" height="1" fill="#0000FF"/>
<rect x="817" y="507" width="1" height="1" fill="#0000FF"/>
<rect x="820" y="507" width="1" height="1" fill="#0000FF"/>
<rect x="823" y="507" width="1" height="1" fill="#0000FF"/>
<rect x="826" y="507" width="1" height="1" fill="#0000FF"/>
<rect x="829" y="507" width="1" height="1" fill="#0000FF"/>
<rect x="832" y="507" width="1" height="1" fill="#0000FF"/>
<rect x="834" y="507" width="1" height="1" fill="#0000FF"/>
<rect x="837" y="507" width="1" height="1" fill="#0000FF"/>
<rect x="840" y="507" width="1" height="1" fill="#0000FF"/>
<rect x="843" y="507" width="1" height="1" fill="#0000FF"/>
<rect x="846" y="507" width="1" height="1" fill="#0000FF"/>
<rect x="849" y="507" width="1" height="1" fill="#0000FF"/>
<rect x="852" y="507" width="1" height="1" fill="#0000FF"/>
<rect x="855" y="507" width="1" height="1" fill="#0000FF"/>
<rect x="858" y="507" width="1" height="1" fill="#0000FF"/>
<rect x="860" y="507" width="1" height="1" fill="#0000FF"/>
<rect x="863" y="507" width="1" height="1" fill="#0000FF"/>
<rect x="866" y="507" width="1" height="1" fill="#0000FF"/>
<rect x="869" y="507" width="1" height="1" fill="#0000FF"/>
<rect x="872" y="507" width="1" height="1" fill="#0000FF"/>
<rect x="875" y="507" width="1" height="1" fill="#0000FF"/>
<rect x="878" y="507" width="1" height="1" fill="#0000FF"/>
<rect x="881" y="507" width="1" height="1" fill="#0000FF"/>
<rect x="883" y="507" width="1" height="1" fill="#0000FF"/>
<rect x="886" y="507" width="1" height="1" fill="#0000FF"/>
<rect x="889" y="507" width="1" height="1" fill="#0000FF"/>
<rect x="892" y="507" width="1" height="1" fill="#0000FF"/>
<rect x="895" y="507" width="1" height="1" fill="#0000FF"/>
<rect x="898" y="507" width="1" height="1" fill="#0000FF"/>
<rect x="901" y="507" width="1" height="1" fill="#0000FF"/>
<rect x="904" y="507" width="1" height="1" fill="#0000FF"/>
<rect x="907" y="507" width="1" height="1" fill="#0000FF"/>
<rect x="909" y="507" width="1" height="1" fill="#0000FF"/>
<rect x="912" y="507" width="1" height="1" fill="#0000FF"/>
<rect x="915" y="507" width="1" height="1" fill="#0000FF"/>
<rect x="918" y="507" width="1" height="1" fill="#0000FF"/>
<rect x="921" y="507" width="1" height="1" fill="#0000FF"/>
<rect x="924" y="507" width="1" height="1" fill="#0000FF"/>
<rect x="927" y="507" width="1" height="1" fill="#0000FF"/>
<rect x="930" y="507" width="1" height="1" fill="#0000FF"/>
<rect x="932" y="507" width="1" height="1" fill="#0000FF"/>
<rect x="935" y="507" width="1" height="1" fill="#0000FF"/>
<rect x="938" y="507" width="1" height="1" fill="#0000FF"/>
<rect x="941" y="507" width="1" height="1" fill="#0000FF"/>
<rect x="124" y="33" width="10" height="10" fill="#000"/>
<rect x="125" y="34" width="8" height="8" fill="#FF0000"/>
<rect x="219" y="33" width="10" height="10" fill="#000"/>
<rect x="220" y="34" width="8" height="8" fill="#800080"/>
<rect x="314" y="33" width="10" height="10" fill="#000"/>
<rect x="315" y="34" width="8" height="8" fill="#008000"/>
<rect x="409" y="33" width="10" height="10" fill="#000"/>
<rect x="410" y="34" width="8" height="8" fill="#0000FF"/>
<rect x="504" y="33" width="10" height="10" fill="#000"/>
<rect x="505" y="34" width="8" height="8" fill="#FFDF99"/>
<rect x="1" y="543" width="1022" height="72" fill="#CCFAF7"/>
<rect x="87" y="543" width="1" height="72" fill="#FFFFFF"/>
<rect x="88" y="543" width="1" height="72" fill="#A59C8E"/>
<rect x="204" y="543" width="1" height="72" fill="#FFFFFF"/>
<rect x="205" y="543" width="1" height="72" fill="#A59C8E"/>
<rect x="322" y="543" width="1" height="72" fill="#FFFFFF"/>
<rect x="323" y="543" width="1" height="72" fill="#A59C8E"/>
<rect x="440" y="543" width="1" height="72" fill="#FFFFFF"/>
<rect x="441" y="543" width="1" height="72" fill="#A59C8E"/>
<rect x="558" y="543" width="1" height="72" fill="#FFFFFF"/>
<rect x="559" y="543" width="1" height="72" fill="#A59C8E"/>
<rect x="676" y="543" width="1" height="72" fill="#FFFFFF"/>
<rect x="677" y="543" width="1" height="72" fill="#A59C8E"/>
<rect x="794" y="543" width="1" height="72" fill="#FFFFFF"/>
<rect x="795" y="543" width="1" height="72" fill="#A59C8E"/>
<rect x="1022" y="543" width="1" height="72" fill="#D6FEFC"/>
<rect x="1023" y="542" width="1" height="73" fill="#A59C8E"/>
<rect x="677.5" y="531.5" width="5" height="5" fill="none" stroke="#FFFF00" stroke-width="1"/>
</g>
<g shape-rendering="crispEdges"><rect x="43" y="531" width="3" height="1" fill="#FFFF00"/><rect x="41" y="532" width="7" height="2" fill="#FFFF00"/><rect x="40" y="534" width="9" height="3" fill="#FFFF00"/><rect x="42" y="535" width="1" height="1" fill="#FFE000"/><rect x="45" y="534" width="1" height="1" fill="#FFE000"/></g>
<g stroke="#FFFF80" stroke-width="1.2" fill="none"><circle cx="398" cy="534" r="5.1" stroke-dasharray="5.2 2.81" stroke-dashoffset="2.6"/><line x1="395.2" y1="531.2" x2="393" y2="529"/><line x1="400.8" y1="531.2" x2="403" y2="529"/><line x1="395.2" y1="536.8" x2="393" y2="539"/><line x1="400.8" y1="536.8" x2="403" y2="539"/></g>
<circle cx="398" cy="534" r="3.1" fill="#FFFF00"/>
<circle cx="497.5" cy="533.5" r="4.8" fill="#fff" stroke="#000" stroke-width="1.4"/>
<defs><filter id="na" x="0" y="0" width="100%" height="100%" filterUnits="userSpaceOnUse" color-interpolation-filters="sRGB"><feComponentTransfer><feFuncA type="discrete" tableValues="0 0 0 0 0 0 0 0 0 1 1 1 1 1 1 1 1 1 1 1"/></feComponentTransfer></filter><filter id="nb" x="0" y="0" width="100%" height="40" filterUnits="userSpaceOnUse" color-interpolation-filters="sRGB"><feComponentTransfer><feFuncA type="discrete" tableValues="0 0 0 0 0 0 0 0 0 0 0 1 1 1 1 1 1 1 1 1"/></feComponentTransfer></filter></defs>
<g filter="url(#nb)">
<text transform="translate(438.20,20.40) scale(0.9527,1)" font-size="16.75" fill="#000000">Samstag, 03.01.2026</text>
</g>
<g filter="url(#na)">
<text transform="translate(20.00,37.00) scale(0.7286,1)" font-size="12.5" stroke="#FF0000" stroke-width="0.15" fill="#FF0000">°C</text>
<text transform="translate(48.60,37.00) scale(0.8435,1)" font-size="12.5" stroke="#008000" stroke-width="0.15" fill="#008000">hPa</text>
<text transform="translate(88.70,37.00) scale(0.7578,1)" font-size="12.5" stroke="#FFDF99" stroke-width="0.15" fill="#FFDF99">min</text>
<text transform="translate(944.70,37.00) scale(0.6909,1)" font-size="12.5" stroke="#800080" stroke-width="0.15" fill="#800080">%</text>
<text transform="translate(981.70,37.00) scale(0.8469,1)" font-size="12.5" stroke="#0000FF" stroke-width="0.15" fill="#0000FF">l/m²</text>
<text transform="translate(139.10,42.00) scale(0.8437,1)" font-size="12.5" stroke="#FF0000" stroke-width="0.15" fill="#FF0000">Temperatur</text>
<text transform="translate(232.93,42.00) scale(0.8685,1)" font-size="12.5" stroke="#800080" stroke-width="0.15" fill="#800080">Feuchte*</text>
<text transform="translate(328.13,42.00) scale(0.8698,1)" font-size="12.5" stroke="#008000" stroke-width="0.15" fill="#008000">Luftdruck*</text>
<text transform="translate(422.87,42.00) scale(0.8793,1)" font-size="12.5" stroke="#0000FF" stroke-width="0.15" fill="#0000FF">Regen</text>
<text transform="translate(518.75,42.00) scale(0.8514,1)" font-size="12.5" stroke="#FFDF99" stroke-width="0.15" fill="#FFDF99">Sonnenschein</text>
<text transform="translate(14.00,53.00) scale(0.8205,1)" font-size="12.5" stroke="#FF0000" stroke-width="0.15" fill="#FF0000">30.0</text>
<text transform="translate(14.00,111.00) scale(0.8205,1)" font-size="12.5" stroke="#FF0000" stroke-width="0.15" fill="#FF0000">25.0</text>
<text transform="translate(14.00,168.00) scale(0.8205,1)" font-size="12.5" stroke="#FF0000" stroke-width="0.15" fill="#FF0000">20.0</text>
<text transform="translate(14.00,225.00) scale(0.8205,1)" font-size="12.5" stroke="#FF0000" stroke-width="0.15" fill="#FF0000">15.0</text>
<text transform="translate(14.00,283.00) scale(0.8205,1)" font-size="12.5" stroke="#FF0000" stroke-width="0.15" fill="#FF0000">10.0</text>
<text transform="translate(20.00,341.00) scale(0.8035,1)" font-size="12.5" stroke="#FF0000" stroke-width="0.15" fill="#FF0000">5.0</text>
<text transform="translate(20.00,398.00) scale(0.8035,1)" font-size="12.5" stroke="#FF0000" stroke-width="0.15" fill="#FF0000">0.0</text>
<text transform="translate(16.50,455.00) scale(0.8107,1)" font-size="12.5" stroke="#FF0000" stroke-width="0.15" fill="#FF0000">-5.0</text>
<text transform="translate(10.50,513.00) scale(0.8234,1)" font-size="12.5" stroke="#FF0000" stroke-width="0.15" fill="#FF0000">-10.0</text>
<text transform="translate(47.80,53.00) scale(0.8436,1)" font-size="12.5" stroke="#008000" stroke-width="0.15" fill="#008000">1030</text>
<text transform="translate(47.80,111.00) scale(0.8436,1)" font-size="12.5" stroke="#008000" stroke-width="0.15" fill="#008000">1025</text>
<text transform="translate(47.80,168.00) scale(0.8436,1)" font-size="12.5" stroke="#008000" stroke-width="0.15" fill="#008000">1020</text>
<text transform="translate(47.80,225.00) scale(0.8436,1)" font-size="12.5" stroke="#008000" stroke-width="0.15" fill="#008000">1015</text>
<text transform="translate(47.80,283.00) scale(0.8436,1)" font-size="12.5" stroke="#008000" stroke-width="0.15" fill="#008000">1010</text>
<text transform="translate(47.80,341.00) scale(0.8436,1)" font-size="12.5" stroke="#008000" stroke-width="0.15" fill="#008000">1005</text>
<text transform="translate(47.80,398.00) scale(0.8436,1)" font-size="12.5" stroke="#008000" stroke-width="0.15" fill="#008000">1000</text>
<text transform="translate(54.30,455.00) scale(0.8132,1)" font-size="12.5" stroke="#008000" stroke-width="0.15" fill="#008000">995</text>
<text transform="translate(54.30,513.00) scale(0.8132,1)" font-size="12.5" stroke="#008000" stroke-width="0.15" fill="#008000">990</text>
<text transform="translate(90.80,53.00) scale(0.8228,1)" font-size="12.5" stroke="#FFDF99" stroke-width="0.15" fill="#FFDF99">100</text>
<text transform="translate(950.70,53.00) scale(0.8324,1)" font-size="12.5" stroke="#800080" stroke-width="0.15" fill="#800080">100</text>
<text transform="translate(96.80,99.00) scale(0.8028,1)" font-size="12.5" stroke="#FFDF99" stroke-width="0.15" fill="#FFDF99">90</text>
<text transform="translate(950.70,99.00) scale(0.8028,1)" font-size="12.5" stroke="#800080" stroke-width="0.15" fill="#800080">90</text>
<text transform="translate(96.80,145.00) scale(0.8028,1)" font-size="12.5" stroke="#FFDF99" stroke-width="0.15" fill="#FFDF99">80</text>
<text transform="translate(950.70,145.00) scale(0.8028,1)" font-size="12.5" stroke="#800080" stroke-width="0.15" fill="#800080">80</text>
<text transform="translate(96.80,191.00) scale(0.8028,1)" font-size="12.5" stroke="#FFDF99" stroke-width="0.15" fill="#FFDF99">70</text>
<text transform="translate(950.70,191.00) scale(0.8028,1)" font-size="12.5" stroke="#800080" stroke-width="0.15" fill="#800080">70</text>
<text transform="translate(96.80,237.00) scale(0.8028,1)" font-size="12.5" stroke="#FFDF99" stroke-width="0.15" fill="#FFDF99">60</text>
<text transform="translate(950.70,237.00) scale(0.8028,1)" font-size="12.5" stroke="#800080" stroke-width="0.15" fill="#800080">60</text>
<text transform="translate(96.80,283.00) scale(0.8028,1)" font-size="12.5" stroke="#FFDF99" stroke-width="0.15" fill="#FFDF99">50</text>
<text transform="translate(950.70,283.00) scale(0.8028,1)" font-size="12.5" stroke="#800080" stroke-width="0.15" fill="#800080">50</text>
<text transform="translate(96.80,329.00) scale(0.8028,1)" font-size="12.5" stroke="#FFDF99" stroke-width="0.15" fill="#FFDF99">40</text>
<text transform="translate(950.70,329.00) scale(0.8028,1)" font-size="12.5" stroke="#800080" stroke-width="0.15" fill="#800080">40</text>
<text transform="translate(96.80,375.00) scale(0.8028,1)" font-size="12.5" stroke="#FFDF99" stroke-width="0.15" fill="#FFDF99">30</text>
<text transform="translate(950.70,375.00) scale(0.8028,1)" font-size="12.5" stroke="#800080" stroke-width="0.15" fill="#800080">30</text>
<text transform="translate(96.80,421.00) scale(0.8028,1)" font-size="12.5" stroke="#FFDF99" stroke-width="0.15" fill="#FFDF99">20</text>
<text transform="translate(950.70,421.00) scale(0.8028,1)" font-size="12.5" stroke="#800080" stroke-width="0.15" fill="#800080">20</text>
<text transform="translate(96.80,467.00) scale(0.8028,1)" font-size="12.5" stroke="#FFDF99" stroke-width="0.15" fill="#FFDF99">10</text>
<text transform="translate(950.70,467.00) scale(0.8028,1)" font-size="12.5" stroke="#800080" stroke-width="0.15" fill="#800080">10</text>
<text transform="translate(103.00,513.00) scale(0.7143,1)" font-size="12.5" stroke="#FFDF99" stroke-width="0.15" fill="#FFDF99">0</text>
<text transform="translate(950.70,513.00) scale(0.7143,1)" font-size="12.5" stroke="#800080" stroke-width="0.15" fill="#800080">0</text>
<text transform="translate(987.70,53.00) scale(0.8379,1)" font-size="12.5" stroke="#0000FF" stroke-width="0.15" fill="#0000FF">5.0</text>
<text transform="translate(987.70,145.00) scale(0.8379,1)" font-size="12.5" stroke="#0000FF" stroke-width="0.15" fill="#0000FF">4.0</text>
<text transform="translate(987.70,237.00) scale(0.8379,1)" font-size="12.5" stroke="#0000FF" stroke-width="0.15" fill="#0000FF">3.0</text>
<text transform="translate(987.70,329.00) scale(0.8379,1)" font-size="12.5" stroke="#0000FF" stroke-width="0.15" fill="#0000FF">2.0</text>
<text transform="translate(987.70,421.00) scale(0.8379,1)" font-size="12.5" stroke="#0000FF" stroke-width="0.15" fill="#0000FF">1.0</text>
<text transform="translate(987.70,513.00) scale(0.8379,1)" font-size="12.5" stroke="#0000FF" stroke-width="0.15" fill="#0000FF">0.0</text>
<text transform="translate(101.40,527.00) scale(0.8523,1)" font-size="12.5" stroke="#000000" stroke-width="0.15" fill="#000000">00:00</text>
<text transform="translate(136.40,527.00) scale(0.8523,1)" font-size="12.5" stroke="#000000" stroke-width="0.15" fill="#000000">01:00</text>
<text transform="translate(170.40,527.00) scale(0.8523,1)" font-size="12.5" stroke="#000000" stroke-width="0.15" fill="#000000">02:00</text>
<text transform="translate(205.40,527.00) scale(0.8523,1)" font-size="12.5" stroke="#000000" stroke-width="0.15" fill="#000000">03:00</text>
<text transform="translate(239.40,527.00) scale(0.8523,1)" font-size="12.5" stroke="#000000" stroke-width="0.15" fill="#000000">04:00</text>
<text transform="translate(274.40,527.00) scale(0.8523,1)" font-size="12.5" stroke="#000000" stroke-width="0.15" fill="#000000">05:00</text>
<text transform="translate(309.40,527.00) scale(0.8523,1)" font-size="12.5" stroke="#000000" stroke-width="0.15" fill="#000000">06:00</text>
<text transform="translate(343.40,527.00) scale(0.8523,1)" font-size="12.5" stroke="#000000" stroke-width="0.15" fill="#000000">07:00</text>
<text transform="translate(378.40,527.00) scale(0.8523,1)" font-size="12.5" stroke="#000000" stroke-width="0.15" fill="#000000">08:00</text>
<text transform="translate(412.40,527.00) scale(0.8523,1)" font-size="12.5" stroke="#000000" stroke-width="0.15" fill="#000000">09:00</text>
<text transform="translate(447.40,527.00) scale(0.8523,1)" font-size="12.5" stroke="#000000" stroke-width="0.15" fill="#000000">10:00</text>
<text transform="translate(481.40,527.00) scale(0.8783,1)" font-size="12.5" stroke="#000000" stroke-width="0.15" fill="#000000">11:00</text>
<text transform="translate(516.40,527.00) scale(0.8523,1)" font-size="12.5" stroke="#000000" stroke-width="0.15" fill="#000000">12:00</text>
<text transform="translate(551.40,527.00) scale(0.8523,1)" font-size="12.5" stroke="#000000" stroke-width="0.15" fill="#000000">13:00</text>
<text transform="translate(585.40,527.00) scale(0.8523,1)" font-size="12.5" stroke="#000000" stroke-width="0.15" fill="#000000">14:00</text>
<text transform="translate(620.40,527.00) scale(0.8523,1)" font-size="12.5" stroke="#000000" stroke-width="0.15" fill="#000000">15:00</text>
<text transform="translate(654.40,527.00) scale(0.8523,1)" font-size="12.5" stroke="#000000" stroke-width="0.15" fill="#000000">16:00</text>
<text transform="translate(689.40,527.00) scale(0.8523,1)" font-size="12.5" stroke="#000000" stroke-width="0.15" fill="#000000">17:00</text>
<text transform="translate(723.40,527.00) scale(0.8523,1)" font-size="12.5" stroke="#000000" stroke-width="0.15" fill="#000000">18:00</text>
<text transform="translate(758.40,527.00) scale(0.8523,1)" font-size="12.5" stroke="#000000" stroke-width="0.15" fill="#000000">19:00</text>
<text transform="translate(793.40,527.00) scale(0.8523,1)" font-size="12.5" stroke="#000000" stroke-width="0.15" fill="#000000">20:00</text>
<text transform="translate(827.40,527.00) scale(0.8523,1)" font-size="12.5" stroke="#000000" stroke-width="0.15" fill="#000000">21:00</text>
<text transform="translate(862.40,527.00) scale(0.8523,1)" font-size="12.5" stroke="#000000" stroke-width="0.15" fill="#000000">22:00</text>
<text transform="translate(896.40,527.00) scale(0.8523,1)" font-size="12.5" stroke="#000000" stroke-width="0.15" fill="#000000">23:00</text>
<text transform="translate(931.40,527.00) scale(0.8523,1)" font-size="12.5" stroke="#000000" stroke-width="0.15" fill="#000000">24:00</text>
<text transform="translate(10.50,538.00) scale(0.8491,1)" font-size="12.5" stroke="#000000" stroke-width="0.15" fill="#000000">08:08</text>
<text transform="translate(8.75,561.00) scale(0.8939,1)" font-size="12.5" font-weight="bold" stroke="#000000" stroke-width="0.1" fill="#000000">Sensor</text>
<text transform="translate(8.75,577.00) scale(0.9367,1)" font-size="12.5" font-weight="bold" stroke="#000000" stroke-width="0.1" fill="#000000">MinWert</text>
<text transform="translate(8.75,593.00) scale(0.9344,1)" font-size="12.5" font-weight="bold" stroke="#000000" stroke-width="0.1" fill="#000000">MaxWert</text>
<text transform="translate(8.75,609.00) scale(0.9143,1)" font-size="12.5" font-weight="bold" stroke="#000000" stroke-width="0.1" fill="#000000">Durchschnitt</text>
<text transform="translate(95.00,561.00) scale(0.9268,1)" font-size="12.5" font-weight="bold" stroke="#000000" stroke-width="0.1" fill="#000000">Temperatur</text>
<text transform="translate(186.25,561.00) scale(0.8394,1)" font-size="12.5" font-weight="bold" stroke="#000000" stroke-width="0.1" fill="#000000">°C</text>
<text transform="translate(212.50,561.00) scale(0.9589,1)" font-size="12.5" font-weight="bold" stroke="#000000" stroke-width="0.1" fill="#000000">Feuchte</text>
<text transform="translate(307.25,561.00) scale(0.8409,1)" font-size="12.5" font-weight="bold" stroke="#000000" stroke-width="0.1" fill="#000000">%</text>
<text transform="translate(330.50,561.00) scale(0.9188,1)" font-size="12.5" font-weight="bold" stroke="#000000" stroke-width="0.1" fill="#000000">Luftdruck</text>
<text transform="translate(413.00,561.00) scale(0.8760,1)" font-size="12.5" font-weight="bold" stroke="#000000" stroke-width="0.1" fill="#000000">hPa</text>
<text transform="translate(448.00,561.00) scale(0.9817,1)" font-size="12.5" font-weight="bold" stroke="#000000" stroke-width="0.1" fill="#000000">Wind</text>
<text transform="translate(523.25,561.00) scale(1.0074,1)" font-size="12.5" font-weight="bold" stroke="#000000" stroke-width="0.1" fill="#000000">km/h</text>
<text transform="translate(566.50,561.00) scale(0.9436,1)" font-size="12.5" font-weight="bold" stroke="#000000" stroke-width="0.1" fill="#000000">Richtung</text>
<text transform="translate(684.50,561.00) scale(0.9716,1)" font-size="12.5" font-weight="bold" stroke="#000000" stroke-width="0.1" fill="#000000">Regen</text>
<text transform="translate(765.75,561.00) scale(1.0086,1)" font-size="12.5" font-weight="bold" stroke="#000000" stroke-width="0.1" fill="#000000">l/m²</text>
<text transform="translate(920.50,561.00) scale(0.9842,1)" font-size="12.5" font-weight="bold" stroke="#000000" stroke-width="0.1" fill="#000000">PMV-1:-5</text>
<text transform="translate(100.50,577.00) scale(0.8618,1)" font-size="12.5" stroke="#000000" stroke-width="0.15" fill="#000000">23:00</text>
<text transform="translate(100.50,593.00) scale(0.8618,1)" font-size="12.5" stroke="#000000" stroke-width="0.15" fill="#000000">02:10</text>
<text transform="translate(180.50,577.00) scale(0.7643,1)" font-size="12.5" stroke="#000000" stroke-width="0.15" fill="#000000">-4.1</text>
<text transform="translate(180.50,593.00) scale(0.8107,1)" font-size="12.5" stroke="#000000" stroke-width="0.15" fill="#000000">-2.5</text>
<text transform="translate(175.00,609.00) scale(0.8059,1)" font-size="12.5" stroke="#000000" stroke-width="0.15" fill="#000000">-3.18</text>
<text transform="translate(218.75,577.00) scale(0.8379,1)" font-size="12.5" stroke="#000000" stroke-width="0.15" fill="#000000">13:55</text>
<text transform="translate(218.75,593.00) scale(0.8379,1)" font-size="12.5" stroke="#000000" stroke-width="0.15" fill="#000000">20:20</text>
<text transform="translate(304.75,577.00) scale(0.8063,1)" font-size="12.5" stroke="#000000" stroke-width="0.15" fill="#000000">73</text>
<text transform="translate(304.75,593.00) scale(0.8063,1)" font-size="12.5" stroke="#000000" stroke-width="0.15" fill="#000000">86</text>
<text transform="translate(304.75,609.00) scale(0.8063,1)" font-size="12.5" stroke="#000000" stroke-width="0.15" fill="#000000">82</text>
<text transform="translate(336.50,577.00) scale(0.8618,1)" font-size="12.5" stroke="#000000" stroke-width="0.15" fill="#000000">00:00</text>
<text transform="translate(336.50,593.00) scale(0.8618,1)" font-size="12.5" stroke="#000000" stroke-width="0.15" fill="#000000">23:50</text>
<text transform="translate(330.50,609.00) scale(0.9025,1)" font-size="12.5" stroke="#000000" stroke-width="0.15" fill="#000000">^1.7hPa/h</text>
<text transform="translate(407.25,577.00) scale(0.8539,1)" font-size="12.5" stroke="#000000" stroke-width="0.15" fill="#000000">998.0</text>
<text transform="translate(401.00,593.00) scale(0.8621,1)" font-size="12.5" stroke="#000000" stroke-width="0.15" fill="#000000">1005.0</text>
<text transform="translate(401.00,609.00) scale(0.8621,1)" font-size="12.5" stroke="#000000" stroke-width="0.15" fill="#000000">1002.0</text>
<text transform="translate(448.50,577.00) scale(0.8145,1)" font-size="12.5" stroke="#000000" stroke-width="0.15" fill="#000000">Ø 10 min.</text>
<text transform="translate(454.75,593.00) scale(0.8379,1)" font-size="12.5" stroke="#000000" stroke-width="0.15" fill="#000000">12:55</text>
<text transform="translate(538.25,577.00) scale(0.7891,1)" font-size="12.5" stroke="#000000" stroke-width="0.15" fill="#000000">7.5</text>
<text transform="translate(519.88,593.00) scale(0.8710,1)" font-size="12.5" stroke="#000000" stroke-width="0.15" fill="#000000">N 12.8</text>
<text transform="translate(538.25,609.00) scale(0.7174,1)" font-size="12.5" stroke="#000000" stroke-width="0.15" fill="#000000">7.1</text>
<text transform="translate(572.75,577.00) scale(0.8539,1)" font-size="12.5" stroke="#000000" stroke-width="0.15" fill="#000000">12:15</text>
<text transform="translate(572.75,593.00) scale(0.8539,1)" font-size="12.5" stroke="#000000" stroke-width="0.15" fill="#000000">00:00</text>
<text transform="translate(663.25,577.00) scale(0.7812,1)" font-size="12.5" stroke="#000000" stroke-width="0.15" fill="#000000">S</text>
<text transform="translate(661.91,593.00) scale(0.8438,1)" font-size="12.5" stroke="#000000" stroke-width="0.15" fill="#000000">N</text>
<text transform="translate(661.91,609.00) scale(0.8438,1)" font-size="12.5" stroke="#000000" stroke-width="0.15" fill="#000000">N</text>
<text transform="translate(690.75,593.00) scale(0.8539,1)" font-size="12.5" stroke="#000000" stroke-width="0.15" fill="#000000">00:00</text>
<text transform="translate(684.50,609.00) scale(0.8126,1)" font-size="12.5" stroke="#000000" stroke-width="0.15" fill="#000000">Gesamt:</text>
<text transform="translate(773.50,593.00) scale(0.8321,1)" font-size="12.5" stroke="#000000" stroke-width="0.15" fill="#000000">0.0</text>
<text transform="translate(773.50,609.00) scale(0.8321,1)" font-size="12.5" stroke="#000000" stroke-width="0.15" fill="#000000">0.0</text>
<text transform="translate(920.50,577.00) scale(0.8372,1)" font-size="12.5" stroke="#000000" stroke-width="0.15" fill="#000000">WC -5.0 °C</text>
<text transform="translate(920.50,593.00) scale(0.8339,1)" font-size="12.5" stroke="#000000" stroke-width="0.15" fill="#000000">TP -6.4 °C</text>
<text transform="translate(920.50,609.00) scale(0.8853,1)" font-size="12.5" stroke="#000000" stroke-width="0.15" fill="#000000">1.2hPa/3h</text>
</g>
</svg></body></html>
